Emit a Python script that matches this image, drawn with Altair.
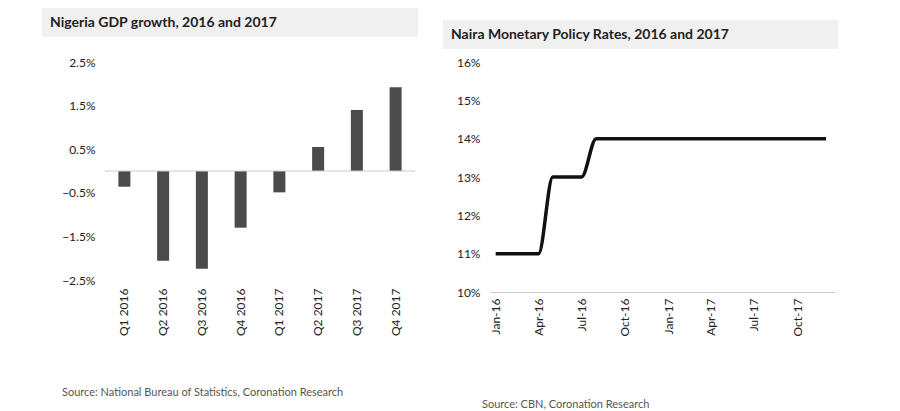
import altair as alt
import pandas as pd

quarters = ["Q1 2016", "Q2 2016", "Q3 2016", "Q4 2016", "Q1 2017", "Q2 2017", "Q3 2017", "Q4 2017"]
gdp = [-0.36, -2.06, -2.24, -1.30, -0.49, 0.55, 1.40, 1.92]

months = pd.date_range("2016-01-01", "2017-12-01", freq="MS").strftime("%Y-%m-%d").tolist()
mpr = [11, 11, 11, 11, 13, 13, 13, 14, 14, 14, 14, 14,
       14, 14, 14, 14, 14, 14, 14, 14, 14, 14, 14, 14]

FONT = "Lato"
W1, H1 = 310, 218
W2, H2 = 345, 230

gdp_df = pd.DataFrame({"q": quarters, "v": [g / 100 for g in gdp]})
mpr_df = pd.DataFrame({"m": months, "r": [r / 100 for r in mpr]})


def header(text, width, xoff, ytop):
    one = pd.DataFrame({"t": [text]})
    band = alt.Chart(one).mark_rect(color="#f0f0f0", clip=False).encode(
        x=alt.value(xoff), x2=alt.value(width + 3), y=alt.value(ytop), y2=alt.value(ytop + 29)
    )
    label = alt.Chart(one).mark_text(
        align="left", baseline="middle", font=FONT, fontSize=14, fontWeight="bold", color="#222"
    ).encode(text="t:N", x=alt.value(xoff + 8), y=alt.value(ytop + 15))
    return band + label


def source(text, xoff, yoff):
    one = pd.DataFrame({"t": [text]})
    return alt.Chart(one).mark_text(
        align="left", baseline="middle", font=FONT, fontSize=11, color="#555"
    ).encode(text="t:N", x=alt.value(xoff), y=alt.value(yoff))


bars = alt.Chart(gdp_df).mark_bar(color="#2b2b2b", opacity=0.85, width=12).encode(
    x=alt.X("q:N", sort=quarters, title=None,
            axis=alt.Axis(labelAngle=-90, labelFontSize=12, labelColor="#222", labelFont=FONT,
                          domain=False, ticks=False, labelPadding=8)),
    y=alt.Y("v:Q", title=None, scale=alt.Scale(domain=[-0.025, 0.025]),
            axis=alt.Axis(format=".1%", values=[x / 1000 for x in range(-25, 26, 5)],
                          labelOverlap=False, labelFontSize=12, labelColor="#222", labelFont=FONT,
                          domain=False, ticks=False, grid=False, labelPadding=10)),
)
zero = alt.Chart(pd.DataFrame({"z": [0]})).mark_rule(color="#ccc").encode(y="z:Q")
left = alt.layer(
    header("Nigeria GDP growth, 2016 and 2017", W1, -63, -54), bars, zero,
    source("Source: National Bureau of Statistics, Coronation Research", -43, H1 + 113),
).properties(width=W1, height=H1)

line = alt.Chart(mpr_df).mark_line(color="#111", strokeWidth=3.5, interpolate="monotone").encode(
    x=alt.X("m:T", title=None, scale=alt.Scale(domain=["2015-12-20", "2017-12-20"]),
            axis=alt.Axis(format="%b-%y", values=[m for m in months[::3]], labelAngle=-90,
                          labelOverlap=False, labelFontSize=12, labelColor="#222", labelFont=FONT,
                          domainColor="#ccc", ticks=False, grid=False, labelPadding=6)),
    y=alt.Y("r:Q", title=None, scale=alt.Scale(domain=[0.10, 0.16]),
            axis=alt.Axis(format=".0%", tickCount=7, labelFontSize=12, labelColor="#222",
                          labelFont=FONT, domain=False, ticks=False, grid=False, labelPadding=10)),
)
right = alt.layer(
    header("Naira Monetary Policy Rates, 2016 and 2017", W2, -47, -42), line,
    source("Source: CBN, Coronation Research", -8, H2 + 113),
).properties(width=W2, height=H2)

chart = alt.hconcat(left, right, spacing=25).properties(
    padding={"left": 34, "top": 0, "right": 0, "bottom": 0}, background="white"
).configure_view(strokeWidth=0)

chart.save("out.html", embed_options={"renderer": "svg", "actions": False})
